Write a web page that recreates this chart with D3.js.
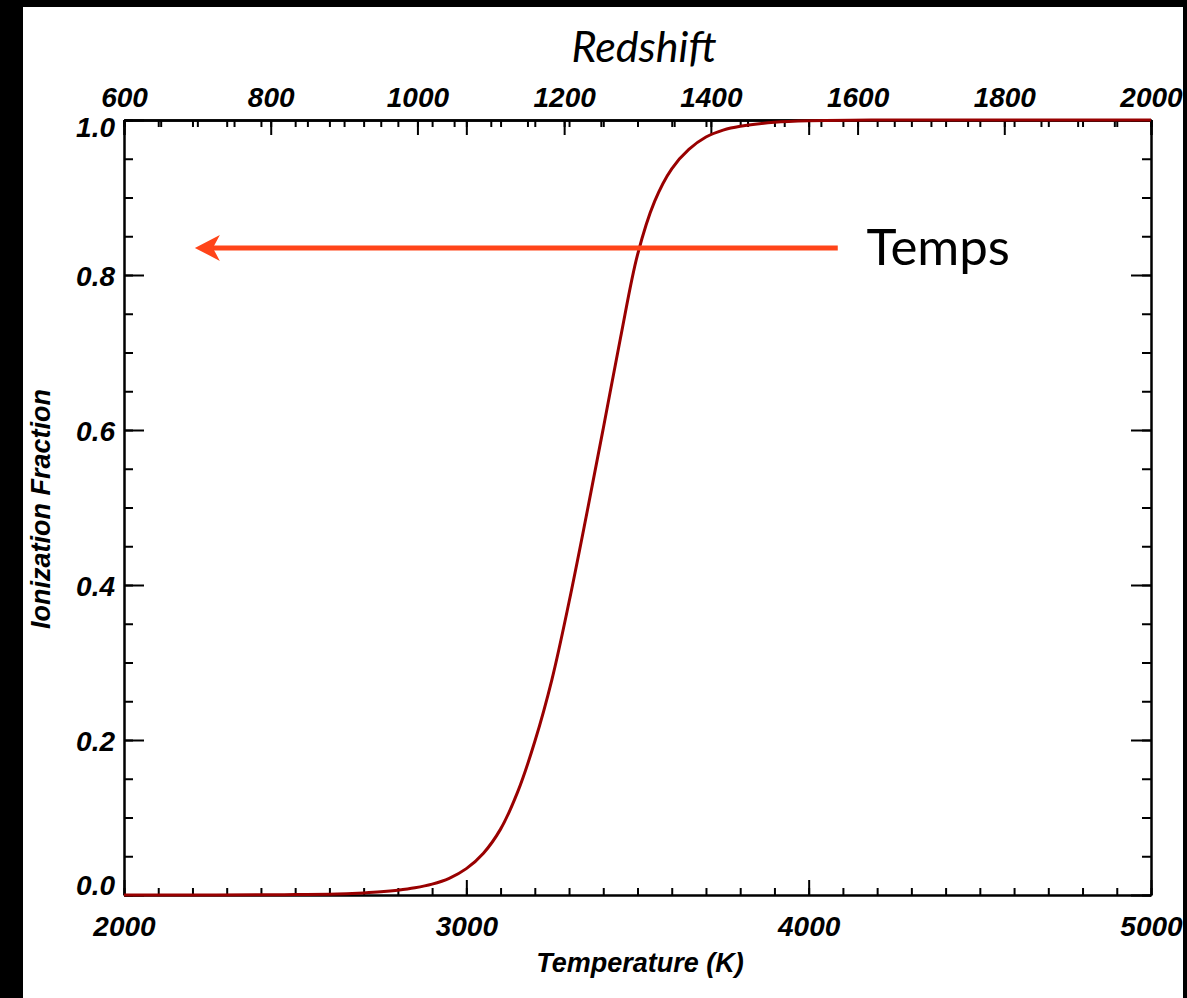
<!DOCTYPE html>
<html><head><meta charset="utf-8">
<script src="https://cdn.jsdelivr.net/npm/d3@7"></script>
<style>body{margin:0;background:#000;overflow:hidden}svg{display:block}</style>
</head><body>
<svg id="chart" width="1187" height="998"></svg>
<script>
// ---- data ----
const temperature = [2000,2200,2400,2500,2600,2650,2700,2750,2800,2850,2900,2950,3000,3050,3100,3150,3200,3250,3300,3350,3400,3450,3500,3550,3600,3650,3700,3750,3800,3900,4000,4200,4500,5000];
const ionization  = [0,0,0.0002,0.0005,0.001,0.0017,0.0027,0.0041,0.0062,0.0093,0.0140,0.0215,0.034,0.054,0.085,0.133,0.198,0.278,0.378,0.488,0.602,0.718,0.826,0.895,0.937,0.962,0.978,0.987,0.992,0.997,0.999,1.0,1.0,1.0];
const tempTicks = [2000,3000,4000,5000];
const tempMinor = d3.range(2000,5001,100);
const fracTicks = [0,0.2,0.4,0.6,0.8,1.0];
const fracMinor = d3.range(0,1.0001,0.05);
const zTicks = [600,800,1000,1200,1400,1600,1800,2000];
const zMinor = d3.range(600,2001,50);
const arrowFromT = 4085, arrowToT = 2207, arrowF = 0.835;
const labelT = 4169, labelF = 0.813, labelText = "Temps";

// ---- layout ----
const svg = d3.select("#chart");
const L = 124, R = 1151, T = 120, B = 895;
svg.append("rect").attr("x",23).attr("y",7).attr("width",1160).attr("height",991).attr("fill","#fff");

const x = d3.scaleLinear().domain([2000,5000]).range([L,R]);
const y = d3.scaleLinear().domain([0,1]).range([B,T]);
const xz = d3.scaleLinear().domain([600,2000]).range([L,R]);

const tickFont = "bold italic 28px 'Liberation Sans', Arial, sans-serif";
function style(g){
  g.select(".domain").attr("stroke","#000").attr("stroke-width",2);
  g.selectAll(".tick line").attr("stroke","#000").attr("stroke-width",2);
  g.selectAll("text").style("font",tickFont).attr("fill","#000");
}
const fmt1 = d3.format(".1f");

// bottom
svg.append("g").attr("transform",`translate(0,${B})`)
  .call(d3.axisBottom(x).tickValues(tempMinor).tickSize(-7).tickSizeOuter(0).tickFormat("")).call(style);
svg.append("g").attr("transform",`translate(0,${B})`)
  .call(d3.axisBottom(x).tickValues(tempTicks).tickSize(-15).tickSizeOuter(0).tickPadding(21).tickFormat(d3.format("d"))).call(style);
// top (temperature mirror + redshift)
svg.append("g").attr("transform",`translate(0,${T})`)
  .call(d3.axisTop(x).tickValues(tempMinor).tickSize(-7).tickSizeOuter(0).tickFormat("")).call(style);
svg.append("g").attr("transform",`translate(0,${T})`)
  .call(d3.axisTop(x).tickValues(tempTicks).tickSize(-15).tickSizeOuter(0).tickFormat("")).call(style);
svg.append("g").attr("transform",`translate(0,${T})`)
  .call(d3.axisTop(xz).tickValues(zMinor).tickSize(-7).tickSizeOuter(0).tickFormat("")).call(style);
svg.append("g").attr("transform",`translate(0,${T})`)
  .call(d3.axisTop(xz).tickValues(zTicks).tickSize(-15).tickSizeOuter(0).tickPadding(13).tickFormat(d3.format("d"))).call(style);
// left
svg.append("g").attr("transform",`translate(${L},0)`)
  .call(d3.axisLeft(y).tickValues(fracMinor).tickSize(-9).tickSizeOuter(0).tickFormat("")).call(style);
const gl = svg.append("g").attr("transform",`translate(${L},0)`)
  .call(d3.axisLeft(y).tickValues(fracTicks).tickSize(-20).tickSizeOuter(0).tickPadding(9).tickFormat(fmt1)).call(style);
gl.selectAll(".tick text").attr("dy", d => d===1 ? "0.6em" : (d===0 ? "-0.02em" : "0.36em"));
// right
svg.append("g").attr("transform",`translate(${R},0)`)
  .call(d3.axisRight(y).tickValues(fracMinor).tickSize(-9).tickSizeOuter(0).tickFormat("")).call(style);
svg.append("g").attr("transform",`translate(${R},0)`)
  .call(d3.axisRight(y).tickValues(fracTicks).tickSize(-20).tickSizeOuter(0).tickFormat("")).call(style);

// axis titles
svg.append("text").attr("x",640).attr("y",972).attr("text-anchor","middle")
  .style("font","bold italic 27px 'Liberation Sans', Arial, sans-serif").text("Temperature (K)");
svg.append("text").attr("transform","translate(50,509) rotate(-90)").attr("text-anchor","middle")
  .style("font","bold italic 27px 'Liberation Sans', Arial, sans-serif").text("Ionization Fraction");
svg.append("text").attr("x",644).attr("y",62).attr("text-anchor","middle")
  .style("font","italic 43px Lato, 'Open Sans', sans-serif").text("Redshift");

// curve
const pts = temperature.map((t,i)=>[t,ionization[i]]);
svg.append("path").datum(pts)
  .attr("d", d3.line().x(d=>x(d[0])).y(d=>y(d[1])).curve(d3.curveCatmullRom.alpha(0.5)))
  .attr("fill","none").attr("stroke","#990000").attr("stroke-width",3);

// arrow annotation
const ay = y(arrowF), ax0 = x(arrowFromT), ax1 = x(arrowToT);
svg.append("line").attr("x1",ax0).attr("y1",ay).attr("x2",ax1+18).attr("y2",ay)
  .attr("stroke","#ff4419").attr("stroke-width",5);
svg.append("path")
  .attr("d",`M${ax1},${ay} L${ax1+25},${ay-13} L${ax1+18},${ay} L${ax1+25},${ay+13} Z`)
  .attr("fill","#ff4419");
svg.append("text").attr("x",x(labelT)).attr("y",y(labelF))
  .style("font","51px Lato, 'Open Sans', sans-serif").attr("fill","#000").text(labelText);
</script>
</body></html>
